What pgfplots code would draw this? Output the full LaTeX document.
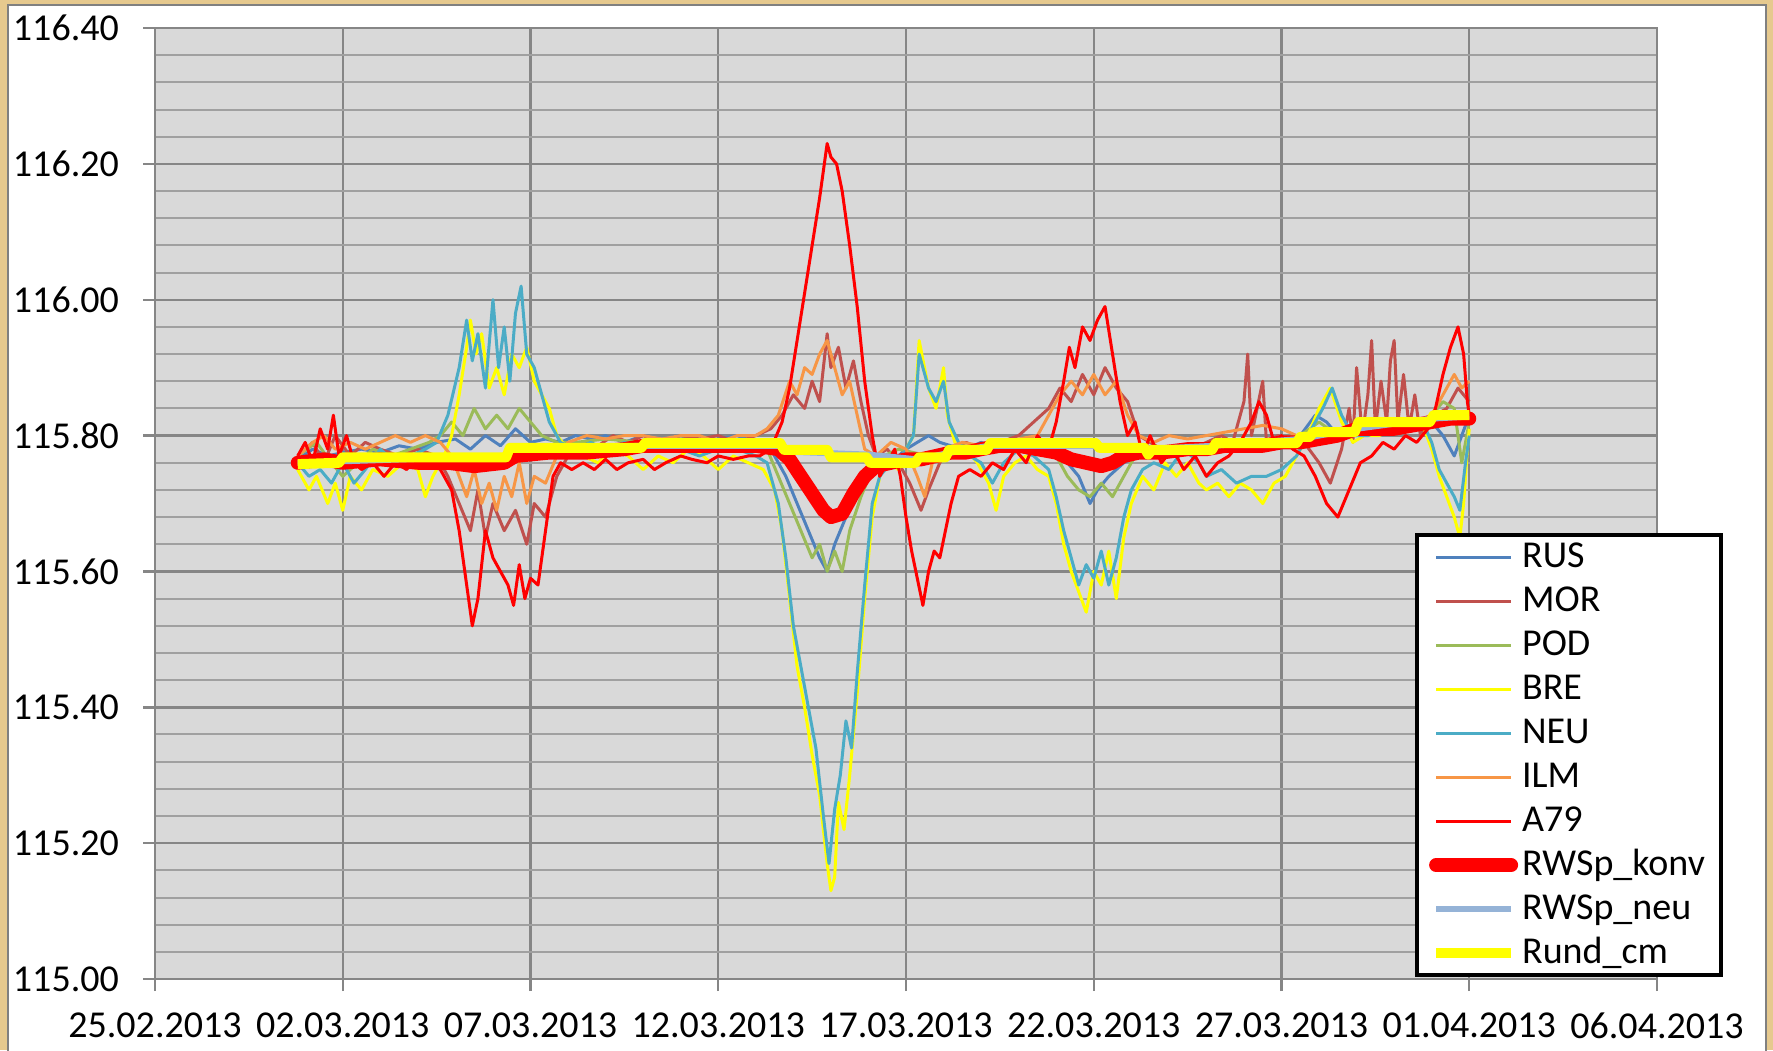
\documentclass[border=0pt]{standalone}
\usepackage{fontspec}
\setmainfont{Carlito}
\usepackage{pgfplots}
\pgfplotsset{compat=1.18}
\definecolor{cRUS}{HTML}{4F81BD}
\definecolor{cMOR}{HTML}{C0504D}
\definecolor{cPOD}{HTML}{9BBB59}
\definecolor{cBRE}{HTML}{FFFF00}
\definecolor{cNEU}{HTML}{4BACC6}
\definecolor{cILM}{HTML}{F79646}
\definecolor{cA79}{HTML}{FF0000}
\definecolor{cNeu}{HTML}{95B3D7}
\definecolor{plotbg}{HTML}{D9D9D9}
\definecolor{gridmaj}{HTML}{868686}
\definecolor{gridmin}{HTML}{A0A0A0}
\definecolor{beige}{HTML}{E6C98E}
\begin{document}
\begin{tikzpicture}
\fill[beige] (0,0) rectangle (443.25pt,-262.5pt);
\fill[white,draw=gray] (2pt,-1.25pt) rectangle (441.5pt,-264pt);
\begin{axis}[
 at={(38.75pt,-244.75pt)}, anchor=south west,
 scale only axis, width=375.5pt, height=237.75pt,
 xmin=0, xmax=40, ymin=115, ymax=116.4,
 axis background/.style={fill=plotbg},
 xtick={0,5,...,40},
 xticklabels={25.02.2013,02.03.2013,07.03.2013,12.03.2013,17.03.2013,22.03.2013,27.03.2013,01.04.2013,06.04.2013},
 ytick={115,115.2,115.4,115.6,115.8,116,116.2,116.4},
 scaled y ticks=false,
 y tick label style={/pgf/number format/fixed, /pgf/number format/fixed zerofill, /pgf/number format/precision=2, xshift=-2.5pt},
 x tick label style={yshift=-2pt},
 /pgf/number format/assume math mode=true,
 tick label style={font=\fontsize{9.5}{11}\selectfont},
 minor y tick num=4,
 grid=both,
 major grid style={gridmaj, line width=0.6pt},
 minor grid style={gridmin, line width=0.5pt},
 axis line style={gridmaj, line width=0.6pt},
 tick style={gridmaj, line width=0.6pt},
 major tick length=3pt, minor tick length=0pt,
 tick align=outside,
 xtick pos=left, ytick pos=left,
 legend style={at={(1.0439,0.002)}, anchor=south east, draw=black, line width=1pt, fill=white,
   font=\fontsize{9.5}{11}\selectfont, inner xsep=3pt, inner ysep=0pt, row sep=0pt,
   nodes={inner sep=1pt, text height=0.72em, text depth=0.18em}},
 legend cell align=left,
 legend image code/.code={\draw[#1] (0pt,0pt) -- (18.75pt,0pt);},
 every axis plot/.append style={no marks, line join=round},
]
\addplot[cRUS, line width=0.75pt] coordinates {(3.8,115.765) (4.2,115.78) (4.6,115.77) (5.0,115.775) (5.5,115.78) (6.0,115.775) (6.5,115.785) (7.0,115.78) (7.5,115.79) (8.0,115.795) (8.4,115.78) (8.8,115.80) (9.2,115.785) (9.6,115.81) (10.0,115.79) (10.4,115.795) (10.8,115.79) (11.2,115.80) (11.6,115.795) (12.0,115.80) (12.5,115.79) (13.0,115.80) (13.5,115.795) (14.0,115.80) (14.5,115.79) (15.0,115.795) (15.5,115.80) (16.0,115.79) (16.4,115.78) (16.8,115.74) (17.1,115.70) (17.4,115.66) (17.7,115.62) (17.9,115.60) (18.1,115.64) (18.4,115.68) (18.7,115.72) (19.0,115.75) (19.3,115.77) (19.6,115.76) (20.0,115.78) (20.3,115.79) (20.6,115.80) (20.9,115.79) (21.2,115.785) (21.6,115.78) (22.0,115.79) (22.5,115.78) (23.0,115.785) (23.5,115.79) (24.0,115.78) (24.3,115.76) (24.6,115.74) (24.9,115.70) (25.1,115.72) (25.4,115.74) (25.8,115.76) (26.2,115.77) (26.6,115.78) (27.0,115.77) (27.5,115.78) (28.0,115.775) (28.5,115.78) (29.0,115.785) (29.5,115.78) (30.0,115.79) (30.5,115.80) (30.9,115.83) (31.2,115.82) (31.5,115.80) (32.0,115.80) (32.5,115.81) (33.0,115.81) (33.5,115.815) (34.0,115.82) (34.3,115.80) (34.6,115.77) (34.8,115.80) (35.0,115.83)};
\addlegendentry{RUS}
\addplot[cMOR, line width=0.75pt] coordinates {(3.8,115.77) (4.2,115.79) (4.5,115.76) (4.8,115.80) (5.2,115.77) (5.6,115.79) (6.0,115.78) (6.5,115.77) (7.0,115.78) (7.5,115.77) (7.8,115.74) (8.1,115.70) (8.4,115.66) (8.6,115.72) (8.8,115.65) (9.0,115.70) (9.3,115.66) (9.6,115.69) (9.9,115.64) (10.1,115.70) (10.4,115.68) (10.7,115.74) (11.0,115.77) (11.4,115.79) (11.8,115.785) (12.2,115.80) (12.6,115.79) (13.0,115.80) (13.5,115.79) (14.0,115.80) (14.5,115.795) (15.0,115.80) (15.5,115.79) (16.0,115.80) (16.4,115.81) (16.7,115.83) (17.0,115.86) (17.3,115.84) (17.5,115.88) (17.7,115.85) (17.9,115.95) (18.0,115.90) (18.2,115.93) (18.4,115.87) (18.6,115.91) (18.8,115.85) (19.0,115.80) (19.2,115.77) (19.5,115.78) (19.8,115.76) (20.1,115.73) (20.4,115.69) (20.6,115.72) (20.9,115.76) (21.2,115.78) (21.6,115.79) (22.0,115.78) (22.5,115.79) (23.0,115.80) (23.4,115.82) (23.8,115.84) (24.1,115.87) (24.4,115.85) (24.7,115.89) (25.0,115.86) (25.3,115.90) (25.6,115.87) (25.9,115.85) (26.2,115.80) (26.5,115.79) (26.8,115.78) (27.2,115.77) (27.6,115.78) (28.0,115.79) (28.4,115.80) (28.7,115.79) (29.0,115.85) (29.1,115.92) (29.2,115.80) (29.5,115.88) (29.6,115.79) (29.9,115.80) (30.3,115.79) (30.6,115.79) (31.0,115.76) (31.3,115.73) (31.6,115.78) (31.8,115.84) (31.9,115.79) (32.0,115.90) (32.15,115.80) (32.3,115.86) (32.4,115.94) (32.5,115.81) (32.65,115.88) (32.8,115.82) (32.9,115.91) (33.0,115.94) (33.1,115.82) (33.25,115.89) (33.4,115.81) (33.55,115.86) (33.7,115.80) (33.85,115.82) (34.1,115.83) (34.4,115.84) (34.7,115.87) (35.0,115.85)};
\addlegendentry{MOR}
\addplot[cPOD, line width=0.75pt] coordinates {(3.8,115.77) (4.3,115.79) (4.7,115.76) (5.0,115.74) (5.4,115.76) (5.8,115.78) (6.3,115.77) (6.8,115.78) (7.3,115.79) (7.6,115.80) (7.9,115.82) (8.2,115.80) (8.5,115.84) (8.8,115.81) (9.1,115.83) (9.4,115.81) (9.7,115.84) (10.0,115.82) (10.3,115.80) (10.7,115.79) (11.2,115.79) (12.0,115.795) (13.0,115.79) (14.0,115.795) (15.0,115.79) (15.8,115.79) (16.3,115.78) (16.6,115.74) (16.9,115.70) (17.2,115.66) (17.5,115.62) (17.7,115.64) (17.9,115.60) (18.1,115.63) (18.3,115.60) (18.5,115.66) (18.8,115.71) (19.1,115.75) (19.4,115.77) (19.8,115.78) (20.2,115.775) (20.6,115.77) (21.0,115.78) (21.5,115.785) (22.0,115.78) (22.5,115.79) (23.0,115.785) (23.5,115.79) (24.0,115.77) (24.3,115.74) (24.6,115.72) (24.9,115.71) (25.2,115.73) (25.5,115.71) (25.8,115.74) (26.1,115.77) (26.5,115.78) (27.0,115.78) (27.5,115.785) (28.0,115.78) (28.5,115.79) (29.0,115.785) (29.5,115.79) (30.0,115.795) (30.5,115.80) (31.0,115.82) (31.5,115.80) (32.0,115.805) (32.5,115.81) (33.0,115.81) (33.5,115.815) (34.0,115.83) (34.3,115.85) (34.6,115.84) (34.8,115.76) (35.0,115.82)};
\addlegendentry{POD}
\addplot[cBRE, line width=0.75pt] coordinates {(3.8,115.75) (4.1,115.72) (4.3,115.74) (4.6,115.70) (4.8,115.73) (5.0,115.69) (5.2,115.74) (5.5,115.72) (5.8,115.75) (6.2,115.74) (6.6,115.76) (7.0,115.75) (7.2,115.71) (7.4,115.74) (7.7,115.77) (7.9,115.80) (8.1,115.86) (8.3,115.93) (8.4,115.97) (8.55,115.92) (8.7,115.95) (8.9,115.87) (9.1,115.90) (9.3,115.86) (9.5,115.92) (9.7,115.90) (9.9,115.93) (10.1,115.88) (10.3,115.86) (10.5,115.84) (10.7,115.80) (11.0,115.78) (11.4,115.77) (11.8,115.76) (12.2,115.78) (12.6,115.77) (13.0,115.75) (13.4,115.77) (13.8,115.76) (14.2,115.78) (14.6,115.77) (15.0,115.75) (15.4,115.77) (15.8,115.76) (16.2,115.75) (16.5,115.72) (16.7,115.66) (16.9,115.56) (17.1,115.46) (17.3,115.40) (17.5,115.33) (17.7,115.27) (17.9,115.17) (18.0,115.13) (18.1,115.15) (18.2,115.26) (18.35,115.22) (18.5,115.30) (18.7,115.42) (18.9,115.56) (19.1,115.68) (19.3,115.74) (19.5,115.76) (19.8,115.75) (20.0,115.78) (20.2,115.80) (20.35,115.94) (20.6,115.87) (20.8,115.84) (21.0,115.90) (21.1,115.83) (21.3,115.79) (21.6,115.78) (21.9,115.76) (22.2,115.73) (22.4,115.69) (22.6,115.74) (22.9,115.76) (23.2,115.77) (23.5,115.75) (23.8,115.74) (24.0,115.70) (24.2,115.64) (24.4,115.60) (24.6,115.57) (24.8,115.54) (25.0,115.60) (25.2,115.58) (25.4,115.63) (25.6,115.56) (25.8,115.65) (26.0,115.70) (26.3,115.74) (26.6,115.72) (26.9,115.76) (27.2,115.74) (27.5,115.76) (27.8,115.73) (28.0,115.72) (28.3,115.73) (28.6,115.71) (28.9,115.73) (29.2,115.72) (29.5,115.70) (29.8,115.73) (30.1,115.74) (30.4,115.77) (30.7,115.80) (31.0,115.84) (31.3,115.87) (31.6,115.82) (31.9,115.79) (32.2,115.80) (32.6,115.80) (33.0,115.81) (33.4,115.81) (33.8,115.81) (34.0,115.78) (34.2,115.74) (34.4,115.71) (34.6,115.68) (34.75,115.65) (34.85,115.70) (34.95,115.78) (35.0,115.81)};
\addlegendentry{BRE}
\addplot[cNEU, line width=0.75pt] coordinates {(3.8,115.76) (4.1,115.74) (4.4,115.75) (4.7,115.73) (5.0,115.76) (5.3,115.73) (5.6,115.75) (6.0,115.78) (6.4,115.76) (6.8,115.77) (7.2,115.78) (7.5,115.79) (7.8,115.83) (8.1,115.90) (8.3,115.97) (8.45,115.91) (8.6,115.95) (8.8,115.87) (9.0,116.00) (9.15,115.90) (9.3,115.96) (9.45,115.88) (9.6,115.98) (9.75,116.02) (9.9,115.92) (10.1,115.90) (10.3,115.86) (10.5,115.82) (10.8,115.79) (11.2,115.78) (11.6,115.79) (12.0,115.78) (12.5,115.79) (13.0,115.78) (13.5,115.785) (14.0,115.78) (14.5,115.77) (15.0,115.78) (15.5,115.78) (16.0,115.77) (16.3,115.76) (16.6,115.70) (16.8,115.62) (17.0,115.52) (17.2,115.46) (17.4,115.40) (17.6,115.34) (17.8,115.24) (17.95,115.17) (18.1,115.25) (18.25,115.30) (18.4,115.38) (18.55,115.34) (18.7,115.45) (18.9,115.58) (19.1,115.70) (19.3,115.74) (19.6,115.76) (19.9,115.77) (20.2,115.80) (20.35,115.92) (20.6,115.87) (20.8,115.85) (21.0,115.88) (21.15,115.82) (21.4,115.79) (21.7,115.77) (22.0,115.76) (22.3,115.73) (22.6,115.76) (23.0,115.78) (23.4,115.77) (23.8,115.75) (24.0,115.71) (24.2,115.66) (24.4,115.62) (24.6,115.58) (24.8,115.61) (25.0,115.59) (25.2,115.63) (25.4,115.58) (25.6,115.62) (25.8,115.68) (26.0,115.72) (26.3,115.75) (26.6,115.76) (27.0,115.75) (27.4,115.78) (27.8,115.76) (28.0,115.74) (28.4,115.75) (28.8,115.73) (29.2,115.74) (29.6,115.74) (30.0,115.75) (30.4,115.77) (30.8,115.81) (31.1,115.84) (31.35,115.87) (31.6,115.83) (31.9,115.80) (32.3,115.80) (32.8,115.81) (33.3,115.81) (33.8,115.815) (34.0,115.79) (34.2,115.75) (34.4,115.73) (34.6,115.71) (34.75,115.69) (34.9,115.76) (35.0,115.80)};
\addlegendentry{NEU}
\addplot[cILM, line width=0.75pt] coordinates {(3.8,115.77) (4.2,115.79) (4.5,115.80) (4.8,115.78) (5.2,115.79) (5.6,115.78) (6.0,115.79) (6.4,115.80) (6.8,115.79) (7.2,115.80) (7.6,115.79) (7.9,115.77) (8.1,115.74) (8.3,115.71) (8.5,115.75) (8.7,115.70) (8.9,115.73) (9.1,115.69) (9.3,115.74) (9.5,115.71) (9.7,115.76) (9.9,115.70) (10.1,115.74) (10.4,115.73) (10.7,115.77) (11.0,115.79) (11.5,115.80) (12.0,115.795) (12.5,115.80) (13.0,115.80) (13.5,115.795) (14.0,115.80) (14.5,115.80) (15.0,115.79) (15.5,115.80) (16.0,115.80) (16.3,115.81) (16.6,115.83) (16.9,115.88) (17.1,115.86) (17.3,115.90) (17.5,115.89) (17.7,115.92) (17.9,115.94) (18.1,115.90) (18.3,115.86) (18.5,115.88) (18.7,115.83) (18.9,115.78) (19.2,115.77) (19.6,115.79) (20.0,115.78) (20.3,115.74) (20.5,115.71) (20.7,115.76) (21.0,115.78) (21.5,115.79) (22.0,115.785) (22.5,115.79) (23.0,115.795) (23.5,115.80) (23.8,115.83) (24.1,115.86) (24.4,115.88) (24.7,115.86) (25.0,115.89) (25.3,115.86) (25.6,115.88) (25.9,115.83) (26.2,115.80) (26.6,115.79) (27.0,115.80) (27.5,115.795) (28.0,115.80) (28.5,115.805) (29.0,115.81) (29.5,115.815) (30.0,115.81) (30.4,115.80) (30.8,115.80) (31.2,115.795) (31.6,115.80) (32.0,115.81) (32.5,115.81) (33.0,115.82) (33.5,115.82) (34.0,115.83) (34.3,115.86) (34.6,115.89) (34.8,115.87) (35.0,115.88)};
\addlegendentry{ILM}
\addplot[cA79, line width=0.75pt] coordinates {(3.8,115.77) (4.0,115.79) (4.2,115.76) (4.4,115.81) (4.6,115.78) (4.75,115.83) (4.9,115.77) (5.1,115.80) (5.3,115.76) (5.5,115.75) (5.8,115.76) (6.1,115.74) (6.4,115.76) (6.7,115.75) (7.0,115.77) (7.3,115.76) (7.6,115.75) (7.9,115.72) (8.1,115.66) (8.3,115.58) (8.45,115.52) (8.6,115.56) (8.8,115.66) (9.0,115.62) (9.2,115.60) (9.4,115.58) (9.55,115.55) (9.7,115.61) (9.85,115.56) (10.0,115.59) (10.2,115.58) (10.4,115.66) (10.6,115.74) (10.8,115.76) (11.1,115.75) (11.4,115.76) (11.7,115.75) (12.0,115.765) (12.3,115.75) (12.6,115.76) (13.0,115.765) (13.3,115.75) (13.6,115.76) (14.0,115.77) (14.3,115.765) (14.7,115.76) (15.0,115.77) (15.4,115.765) (15.8,115.77) (16.1,115.77) (16.4,115.78) (16.7,115.82) (16.9,115.87) (17.1,115.94) (17.3,116.01) (17.5,116.08) (17.7,116.15) (17.9,116.23) (18.0,116.21) (18.15,116.20) (18.3,116.16) (18.5,116.08) (18.7,115.99) (18.9,115.88) (19.1,115.80) (19.3,115.74) (19.5,115.76) (19.7,115.78) (19.85,115.74) (20.0,115.68) (20.15,115.63) (20.3,115.59) (20.45,115.55) (20.6,115.60) (20.75,115.63) (20.9,115.62) (21.05,115.66) (21.2,115.70) (21.4,115.74) (21.7,115.75) (22.0,115.74) (22.3,115.76) (22.6,115.75) (22.9,115.78) (23.2,115.76) (23.5,115.80) (23.8,115.78) (24.0,115.82) (24.2,115.88) (24.35,115.93) (24.5,115.90) (24.7,115.96) (24.9,115.94) (25.1,115.97) (25.3,115.99) (25.5,115.92) (25.7,115.85) (25.9,115.80) (26.1,115.82) (26.3,115.77) (26.5,115.80) (26.8,115.76) (27.1,115.78) (27.4,115.75) (27.7,115.77) (28.0,115.74) (28.3,115.76) (28.6,115.77) (28.9,115.79) (29.2,115.82) (29.4,115.85) (29.6,115.83) (29.8,115.79) (30.0,115.80) (30.3,115.78) (30.6,115.77) (30.9,115.74) (31.2,115.70) (31.5,115.68) (31.8,115.72) (32.1,115.76) (32.4,115.77) (32.7,115.79) (33.0,115.78) (33.3,115.80) (33.6,115.79) (33.9,115.81) (34.1,115.84) (34.3,115.89) (34.5,115.93) (34.7,115.96) (34.85,115.92) (34.95,115.85) (35.0,115.83)};
\addlegendentry{A79}
\addplot[cA79, line width=3.5pt, line cap=round] coordinates {(3.8,115.76) (4.5,115.765) (5.0,115.76) (6.0,115.765) (7.0,115.76) (7.8,115.76) (8.5,115.755) (9.3,115.76) (9.6,115.77) (10.5,115.775) (11.5,115.775) (12.5,115.78) (13.0,115.785) (14.0,115.785) (15.0,115.785) (16.0,115.785) (16.6,115.78) (16.9,115.765) (17.2,115.74) (17.5,115.715) (17.8,115.69) (18.0,115.68) (18.3,115.685) (18.6,115.715) (18.9,115.74) (19.2,115.755) (19.6,115.76) (20.0,115.765) (20.4,115.765) (20.8,115.77) (21.2,115.775) (21.6,115.775) (22.0,115.78) (22.5,115.785) (23.0,115.785) (23.5,115.78) (24.0,115.775) (24.4,115.765) (24.8,115.76) (25.2,115.755) (25.5,115.76) (25.8,115.77) (26.2,115.775) (26.8,115.775) (27.5,115.78) (28.0,115.78) (28.5,115.785) (29.0,115.785) (29.5,115.785) (30.0,115.79) (30.5,115.79) (31.0,115.795) (31.5,115.80) (32.0,115.81) (32.5,115.81) (33.0,115.81) (33.5,115.815) (34.0,115.82) (34.5,115.825) (35.0,115.825)};
\addlegendentry{RWSp\_konv}
\addplot[cNeu, line width=1.5pt] coordinates {(3.8,115.76) (9.4,115.77) (9.5,115.78) (13.0,115.785) (16.7,115.785) (17.0,115.776) (19.0,115.772) (20.3,115.765) (21.2,115.775) (22.2,115.785) (25.1,115.785) (26.4,115.78) (28.2,115.785) (30.5,115.795) (32.0,115.81) (34.0,115.825) (35.0,115.828)};
\addlegendentry{RWSp\_neu}
\addplot[cBRE, line width=2.5pt] coordinates {(3.8,115.758) (4.9,115.760) (5.0,115.768) (9.35,115.768) (9.45,115.782) (12.95,115.782) (13.05,115.789) (16.65,115.789) (16.75,115.779) (17.9,115.779) (18.0,115.768) (18.95,115.768) (19.05,115.760) (20.25,115.760) (20.35,115.768) (21.05,115.768) (21.15,115.779) (22.15,115.779) (22.25,115.789) (25.05,115.789) (25.15,115.782) (26.35,115.782) (26.45,115.772) (26.55,115.779) (28.15,115.779) (28.25,115.789) (30.4,115.789) (30.5,115.798) (30.75,115.798) (30.85,115.805) (31.95,115.805) (32.05,115.82) (33.95,115.82) (34.05,115.83) (35.0,115.83)};
\addlegendentry{Rund\_cm}
\end{axis}
\pgfresetboundingbox
\path (0,0) rectangle (443.25pt,-262.5pt);
\end{tikzpicture}
\end{document}
